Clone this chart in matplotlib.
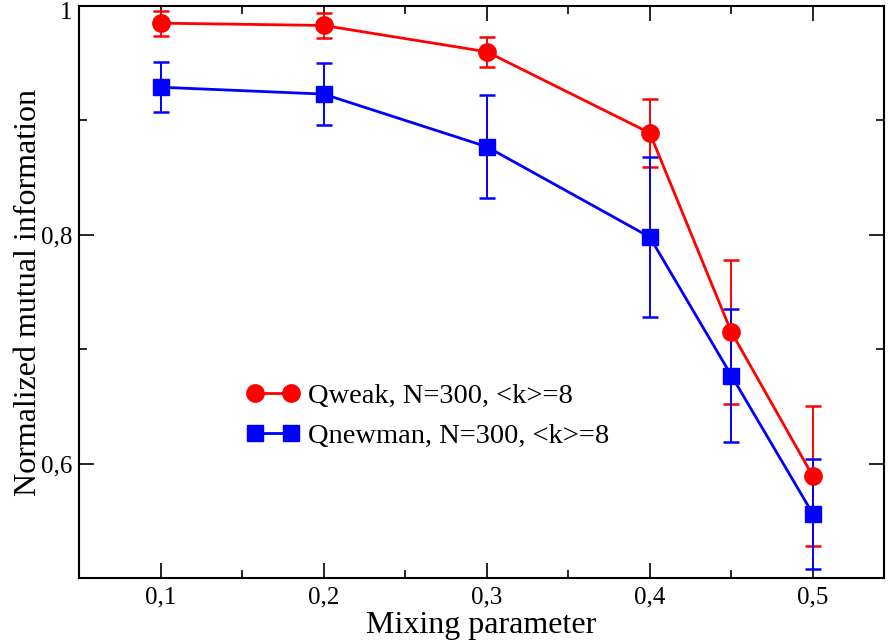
import matplotlib
matplotlib.use("Agg")
import matplotlib.pyplot as plt
from matplotlib.ticker import FixedLocator, FuncFormatter
from matplotlib.lines import Line2D
from matplotlib.transforms import ScaledTranslation

mixing = [0.1, 0.2, 0.3, 0.4, 0.45, 0.5]
qweak = [0.985, 0.983, 0.960, 0.889, 0.715, 0.589]
qweak_err = [0.011, 0.011, 0.013, 0.030, 0.063, 0.061]
qnewman = [0.929, 0.923, 0.877, 0.798, 0.677, 0.556]
qnewman_err = [0.022, 0.027, 0.045, 0.070, 0.058, 0.048]
labels = ["Qweak, N=300, <k>=8", "Qnewman, N=300, <k>=8"]

plt.rcParams['font.family'] = ['Liberation Serif', 'DejaVu Serif']

fig = plt.figure(figsize=(8.88, 6.42), dpi=100)
ax = fig.add_axes([79/888, 1-578/642, (884-79)/888, (578-6)/642])

ax.errorbar(mixing, qweak, yerr=qweak_err, color='#ff0000', marker='o', ms=12.5,
            lw=2, elinewidth=1.4, capsize=6, capthick=1.8)
ax.errorbar(mixing, qnewman, yerr=qnewman_err, color='#0000ff', marker='s', ms=11,
            lw=2, elinewidth=1.4, capsize=6, capthick=1.8)

ax.set_xlim(0.05, 0.5436)
ax.set_ylim(0.5, 1.0)
ax.xaxis.set_major_locator(FixedLocator([0.1, 0.2, 0.3, 0.4, 0.5]))
ax.xaxis.set_minor_locator(FixedLocator([0.15, 0.25, 0.35, 0.45]))
ax.yaxis.set_major_locator(FixedLocator([0.6, 0.8, 1.0]))
ax.yaxis.set_minor_locator(FixedLocator([0.5, 0.7, 0.9]))

def fmt(v, pos):
    if abs(v - 1.0) < 1e-9:
        return "1"
    return ("%.1f" % v).replace(".", ",")

ax.xaxis.set_major_formatter(FuncFormatter(fmt))
ax.yaxis.set_major_formatter(FuncFormatter(fmt))
ax.tick_params(which='both', direction='in', top=True, right=True, width=1.2, labelsize=18)
ax.tick_params(which='major', length=11)
ax.tick_params(axis='x', which='major', pad=6)
ax.tick_params(axis='y', which='major', pad=5)
ax.tick_params(which='minor', length=6)
for s in ax.spines.values():
    s.set_linewidth(1.5)

ax.set_xlabel("Mixing parameter", fontsize=23, labelpad=2)
ax.set_ylabel("Normalized mutual information", fontsize=23, labelpad=-2)

handles = [Line2D([], [], color='#ff0000', marker='o', ms=12.5, lw=2),
           Line2D([], [], color='#0000ff', marker='s', ms=11, lw=2)]
leg = ax.legend(handles, labels, loc='center left', bbox_to_anchor=(0.208, 0.283), frameon=False,
                fontsize=20.5, numpoints=2, handlelength=1.85, handletextpad=0.3,
                labelspacing=0.49, borderpad=0, borderaxespad=0)

fig.canvas.draw()
for lab in ax.get_yticklabels():
    if lab.get_text() == "1":
        lab.set_transform(lab.get_transform() + ScaledTranslation(0, -3/72, fig.dpi_scale_trans))

fig.savefig("out.png", dpi=100)
